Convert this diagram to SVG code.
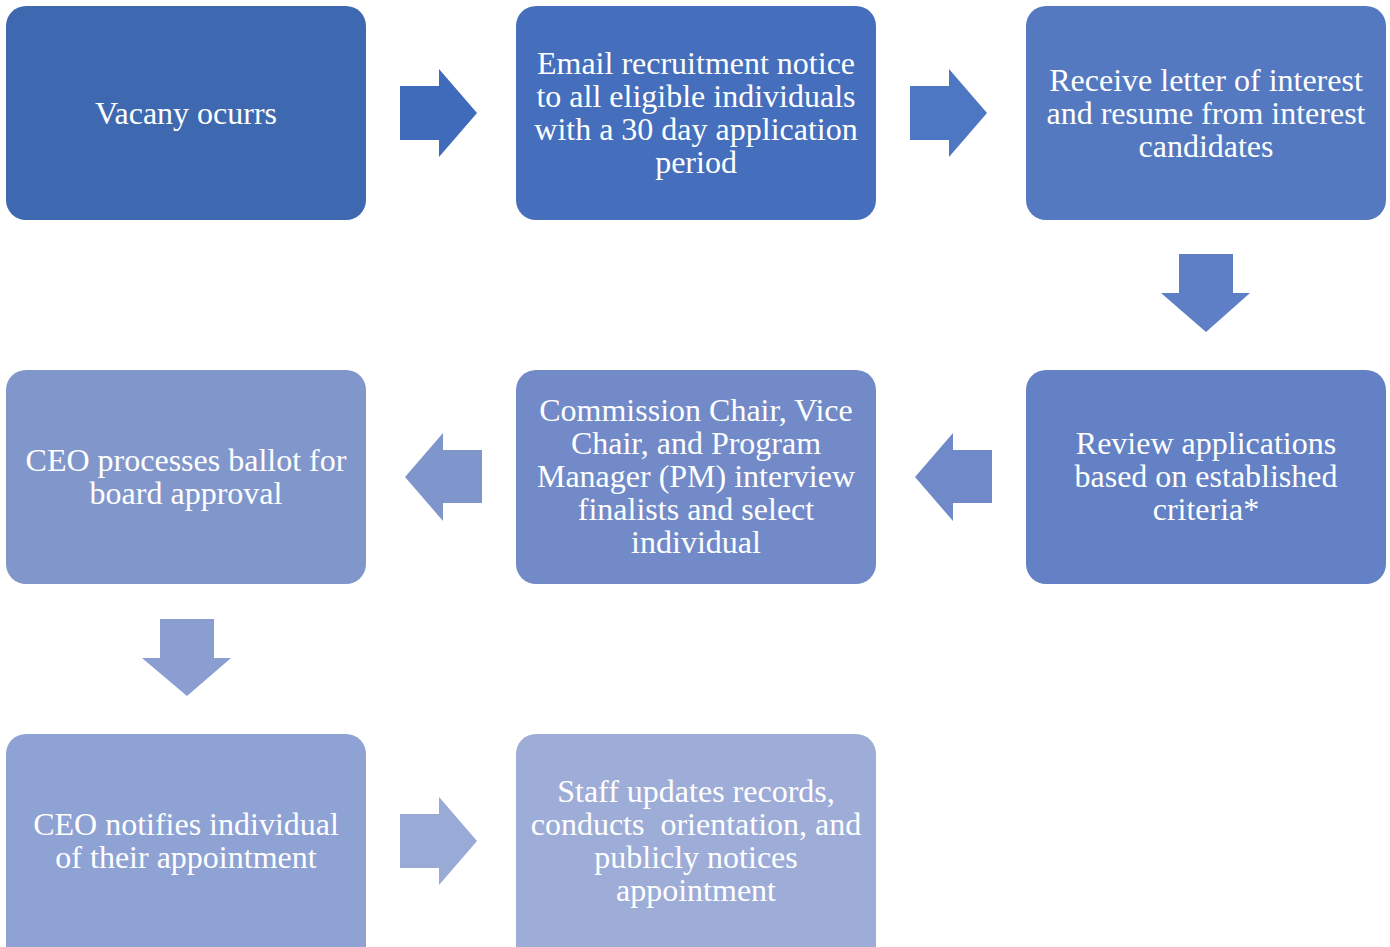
<svg xmlns="http://www.w3.org/2000/svg" width="1390" height="947" viewBox="0 0 1390 947">
<style>
.t{font-family:"Liberation Serif","Times New Roman",serif;font-size:32px;fill:#ffffff;text-anchor:middle}
</style>
<rect width="1390" height="947" fill="#ffffff"/>
<g id="connectors">
<polygon points="400,86 439,86 439,69 477,113 439,157 439,140 400,140" fill="#3F6BBA"/>
<polygon points="910,86 949,86 949,69 987,113 949,157 949,140 910,140" fill="#4D77C2"/>
<polygon points="1179,254 1233,254 1233,293 1250,293 1206,332 1161,293 1179,293" fill="#5E7FC5"/>
<polygon points="992,450 953,450 953,433 915,477 953,521 953,503 992,503" fill="#6F89C9"/>
<polygon points="482,450 443,450 443,433 405,477 443,521 443,503 482,503" fill="#7F96CD"/>
<polygon points="160,619 214,619 214,658 231,658 187,696 142,658 160,658" fill="#8B9ED2"/>
<polygon points="400,814 439,814 439,797 477,841 439,885 439,868 400,868" fill="#9AAAD7"/>
</g>
<g id="n1"><rect x="6" y="6" width="360" height="214" rx="20" fill="#3E69B1"/>
<text class="t" x="186" y="124">Vacany ocurrs</text></g>
<g id="n2"><rect x="516" y="6" width="360" height="214" rx="20" fill="#456FBC"/>
<text class="t" x="696" y="74">Email recruitment notice</text>
<text class="t" x="696" y="107">to all eligible individuals</text>
<text class="t" x="696" y="140">with a 30 day application</text>
<text class="t" x="696" y="173">period</text></g>
<g id="n3"><rect x="1026" y="6" width="360" height="214" rx="20" fill="#5479C0"/>
<text class="t" x="1206" y="91">Receive letter of interest</text>
<text class="t" x="1206" y="124">and resume from interest</text>
<text class="t" x="1206" y="157">candidates</text></g>
<g id="n4"><rect x="1026" y="370" width="360" height="214" rx="20" fill="#6381C4"/>
<text class="t" x="1206" y="454">Review applications</text>
<text class="t" x="1206" y="487">based on established</text>
<text class="t" x="1206" y="520">criteria*</text></g>
<g id="n5"><rect x="516" y="370" width="360" height="214" rx="20" fill="#728BC8"/>
<text class="t" x="696" y="421">Commission Chair, Vice</text>
<text class="t" x="696" y="454">Chair, and Program</text>
<text class="t" x="696" y="487">Manager (PM) interview</text>
<text class="t" x="696" y="520">finalists and select</text>
<text class="t" x="696" y="553">individual</text></g>
<g id="n6"><rect x="6" y="370" width="360" height="214" rx="20" fill="#8197CC"/>
<text class="t" x="186" y="471">CEO processes ballot for</text>
<text class="t" x="186" y="504">board approval</text></g>
<g id="n7"><rect x="6" y="734" width="360" height="240" rx="20" fill="#8FA2D4"/>
<text class="t" x="186" y="835">CEO notifies individual</text>
<text class="t" x="186" y="868">of their appointment</text></g>
<g id="n8"><rect x="516" y="734" width="360" height="240" rx="20" fill="#9EADD8"/>
<text class="t" x="696" y="802">Staff updates records,</text>
<text class="t" x="696" y="835" xml:space="preserve">conducts  orientation, and</text>
<text class="t" x="696" y="868">publicly notices</text>
<text class="t" x="696" y="901">appointment</text></g>
</svg>
